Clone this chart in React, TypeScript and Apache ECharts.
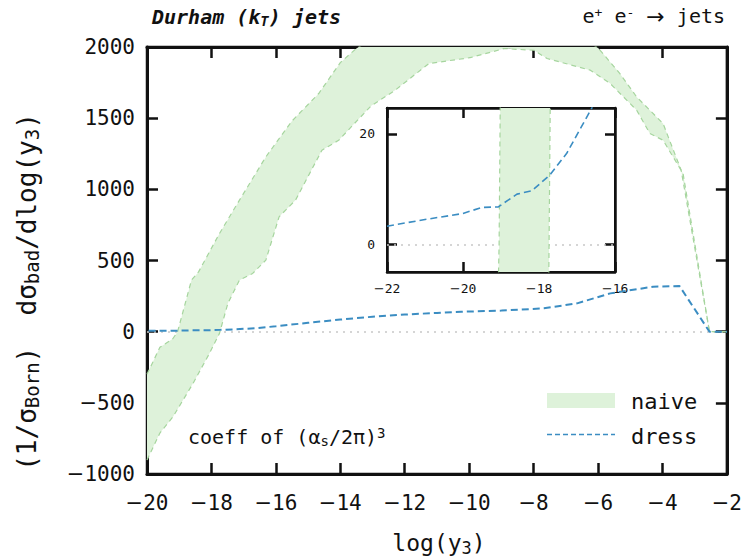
import React, { useEffect, useRef } from 'react';
import * as echarts from 'echarts';

// upper edge of the "naive" band: [log(y3), value]
const naiveHi: [number, number][] = [
  [-20, -300], [-19.6, -110], [-19.2, -50], [-19.05, 0], [-18.62, 362], [-18.4, 420],
  [-17.75, 690], [-17.13, 924], [-16.31, 1228], [-15.5, 1480], [-14.67, 1673],
  [-14.0, 1890], [-13.5, 1990], [-13, 2060], [-12, 2120], [-10, 2180], [-8, 2180],
  [-7, 2120], [-6.3, 2040], [-5.98, 1989], [-5.32, 1813], [-4.8, 1649], [-3.98, 1462],
  [-3.42, 1135], [-2.54, 0], [-2, 0],
];
// lower edge of the "naive" band
const naiveLo: [number, number][] = [
  [-20, -902], [-19.6, -712], [-19.19, -597], [-18.57, -363], [-18.06, -152],
  [-17.75, -12], [-17.49, 199], [-17.13, 362], [-16.72, 409], [-16.31, 503],
  [-15.9, 807], [-15.39, 924], [-14.57, 1275], [-14.05, 1345], [-13.05, 1585],
  [-12.3, 1696], [-11.25, 1884], [-9.97, 1925], [-8.91, 1989], [-7.99, 1977],
  [-7.58, 1919], [-6.24, 1837], [-5.62, 1743], [-4.8, 1556], [-4.39, 1392],
  [-3.98, 1345], [-3.36, 1111], [-2.54, 0], [-2, 0],
];
// "dress" curve
const dress: [number, number][] = [
  [-22, 3.3], [-21, 4.5], [-20, 5.6], [-19.5, 6.7], [-19.07, 6.8], [-18.58, 9.1],
  [-18.19, 9.7], [-17.71, 12.6], [-17.27, 16.5], [-16.61, 24.7], [-16, 38], [-15, 62],
  [-14, 85], [-13, 105], [-12, 120], [-11, 132], [-10.25, 140], [-9, 148], [-7.68, 164],
  [-6.65, 199], [-5.62, 269], [-4.29, 316], [-3.47, 320], [-2.54, 0], [-2, 0],
];
// inset y ticks / labels
const insetYTicks = [0, 20];

const MONO = '"DejaVu Sans Mono", monospace';
const INK = '#111111';
const GREEN_FILL = '#def2da';
const GREEN_EDGE = '#a6d59e';
const BLUE = '#3b8dc2';

const sub = (fs: number) => ({ fontSize: fs, fontFamily: MONO, color: INK, padding: [Math.round(fs * 0.55), 0, 0, 0] });
const sup = (fs: number) => ({ fontSize: fs, fontFamily: MONO, color: INK, padding: [0, 0, Math.round(fs * 0.6), 0] });

function bandSeries(xi: number, yi: number) {
  return {
    type: 'custom',
    xAxisIndex: xi,
    yAxisIndex: yi,
    data: [[-19, 0]],
    encode: { x: 0, y: 1 },
    silent: true,
    z: 1,
    renderItem: (params: any, api: any) => {
      const cs = params.coordSys;
      const pts = naiveHi.map((p) => api.coord(p)).concat(naiveLo.slice().reverse().map((p) => api.coord(p)));
      return {
        type: 'polygon',
        shape: { points: pts },
        style: { fill: GREEN_FILL },
        clipPath: { type: 'rect', shape: { x: cs.x, y: cs.y, width: cs.width, height: cs.height } },
      };
    },
  };
}

function edgeSeries(data: [number, number][], xi: number, yi: number) {
  return {
    type: 'line', xAxisIndex: xi, yAxisIndex: yi, data, symbol: 'none', silent: true, z: 2,
    lineStyle: { color: GREEN_EDGE, width: 1.2, type: [5, 4] },
  };
}

function dressSeries(xi: number, yi: number, lw: number) {
  return {
    type: 'line', xAxisIndex: xi, yAxisIndex: yi, data: dress, symbol: 'none', silent: true, z: 4,
    lineStyle: { color: BLUE, width: lw, type: [7, 4] },
    markLine: {
      silent: true, symbol: ['none', 'none'], label: { show: false },
      lineStyle: { color: '#c8c8c8', width: 1.5, type: [2, 5] },
      data: [{ yAxis: 0 }], z: 1,
    },
  };
}

const numFmt = (v: number) => (v < 0 ? '{m|−}' + Math.abs(v) : String(v));

function mkLine(w: number) {
  return { show: true, onZero: false, lineStyle: { color: INK, width: w } };
}
function mkTick(len: number, w: number, custom?: number[]) {
  const t: any = { show: true, inside: true, length: len, lineStyle: { color: INK, width: w } };
  if (custom) t.customValues = custom;
  return t;
}
function mkLabel(fs: number, m: number, custom?: number[]) {
  const l: any = {
    show: true, fontSize: fs, fontFamily: MONO, color: INK, margin: m,
    formatter: numFmt,
    rich: { m: { fontSize: fs, fontFamily: '"DejaVu Sans", sans-serif', color: INK } },
  };
  if (custom) l.customValues = custom;
  return l;
}

export default function App() {
  const ref = useRef<HTMLDivElement>(null);
  useEffect(() => {
    if (!ref.current) return;
    const chart = echarts.init(ref.current, undefined, { renderer: 'svg' });

    const option: any = {
      animation: false,
      grid: [
        { left: 147, top: 47, width: 584, height: 427, show: true, borderColor: INK, borderWidth: 2.5, backgroundColor: 'transparent' },
        { left: 387, top: 108, width: 228, height: 164, show: true, borderColor: INK, borderWidth: 2, backgroundColor: 'transparent' },
      ],
      xAxis: [
        { type: 'value', gridIndex: 0, min: -20, max: -2, interval: 2, position: 'bottom',
          axisLine: mkLine(3), axisTick: mkTick(11, 2.5), axisLabel: mkLabel(21, 18), splitLine: { show: false } },
        { type: 'value', gridIndex: 0, min: -20, max: -2, interval: 2, position: 'top',
          axisLine: mkLine(3), axisTick: mkTick(11, 2.5), axisLabel: { show: false }, splitLine: { show: false } },
        { type: 'value', gridIndex: 1, min: -22, max: -16, interval: 2, position: 'bottom',
          axisLine: mkLine(2.5), axisTick: mkTick(10, 2.5), axisLabel: mkLabel(13, 10), splitLine: { show: false } },
        { type: 'value', gridIndex: 1, min: -22, max: -16, interval: 2, position: 'top',
          axisLine: mkLine(2.5), axisTick: mkTick(10, 2.5), axisLabel: { show: false }, splitLine: { show: false } },
      ],
      yAxis: [
        { type: 'value', gridIndex: 0, min: -1000, max: 2000, interval: 500, position: 'left',
          axisLine: mkLine(3), axisTick: mkTick(11, 2.5), axisLabel: mkLabel(21, 12), splitLine: { show: false } },
        { type: 'value', gridIndex: 0, min: -1000, max: 2000, interval: 500, position: 'right',
          axisLine: mkLine(3), axisTick: mkTick(11, 2.5), axisLabel: { show: false }, splitLine: { show: false } },
        { type: 'value', gridIndex: 1, min: -5, max: 24.7, position: 'left',
          axisLine: mkLine(2.5), axisTick: mkTick(10, 2.5, insetYTicks), axisLabel: mkLabel(13, 12, insetYTicks), splitLine: { show: false } },
        { type: 'value', gridIndex: 1, min: -5, max: 24.7, position: 'right',
          axisLine: mkLine(2.5), axisTick: mkTick(10, 2.5, insetYTicks), axisLabel: { show: false }, splitLine: { show: false } },
      ],
      series: [
        bandSeries(0, 0),
        edgeSeries(naiveHi, 0, 0),
        edgeSeries(naiveLo, 0, 0),
        dressSeries(0, 0, 2),
        bandSeries(2, 2),
        edgeSeries(naiveHi, 2, 2),
        edgeSeries(naiveLo, 2, 2),
        dressSeries(2, 2, 1.6),
      ],
      graphic: [
        {
          type: 'text', left: 152, top: 7, z: 10,
          style: {
            text: 'Durham (k{s|T}) jets',
            fontSize: 20, fontFamily: MONO, fontWeight: 'bold', fontStyle: 'italic', fill: INK,
            rich: { s: { ...sub(14), fontWeight: 'bold', fontStyle: 'italic' } },
          },
        },
        {
          type: 'text', right: 20, top: 5, z: 10,
          style: {
            text: 'e{p|+} e{p|-} {a|→} jets',
            fontSize: 20, fontFamily: MONO, fill: INK,
            rich: { p: sup(13), a: { fontSize: 22, fontFamily: '"DejaVu Sans", sans-serif', color: INK } },
          },
        },
        {
          type: 'text', x: 27, y: 292, rotation: Math.PI / 2, z: 10,
          style: {
            text: '(1/σ{s|Born})  dσ{s|bad}/dlog(y{s|3})',
            fontSize: 26, fontFamily: MONO, fill: INK, align: 'center', verticalAlign: 'middle',
            rich: { s: sub(19) },
          },
        },
        {
          type: 'text', x: 439, y: 543, z: 10,
          style: {
            text: 'log(y{s|3})',
            fontSize: 23, fontFamily: MONO, fill: INK, align: 'center', verticalAlign: 'middle',
            rich: { s: sub(17) },
          },
        },
        {
          type: 'text', x: 188, y: 437, z: 10,
          style: {
            text: 'coeff of (α{s|s}/2π){p|3}',
            fontSize: 20, fontFamily: MONO, fill: INK, align: 'left', verticalAlign: 'middle',
            rich: { s: sub(14), p: sup(14) },
          },
        },
        { type: 'rect', shape: { x: 547, y: 393, width: 68, height: 15 }, style: { fill: GREEN_FILL }, z: 10 },
        { type: 'line', shape: { x1: 547, y1: 434.5, x2: 615, y2: 434.5 }, style: { stroke: BLUE, lineWidth: 1.6, lineDash: [5, 3] }, z: 10 },
        { type: 'text', x: 631, y: 401, z: 10, style: { text: 'naive', fontSize: 22, fontFamily: MONO, fill: INK, verticalAlign: 'middle' } },
        { type: 'text', x: 631, y: 436, z: 10, style: { text: 'dress', fontSize: 22, fontFamily: MONO, fill: INK, verticalAlign: 'middle' } },
      ],
    };
    chart.setOption(option);
    return () => chart.dispose();
  }, []);
  return <div ref={ref} style={{ position: 'fixed', left: 0, top: 0, width: 745, height: 556, background: '#fff' }} />;
}
